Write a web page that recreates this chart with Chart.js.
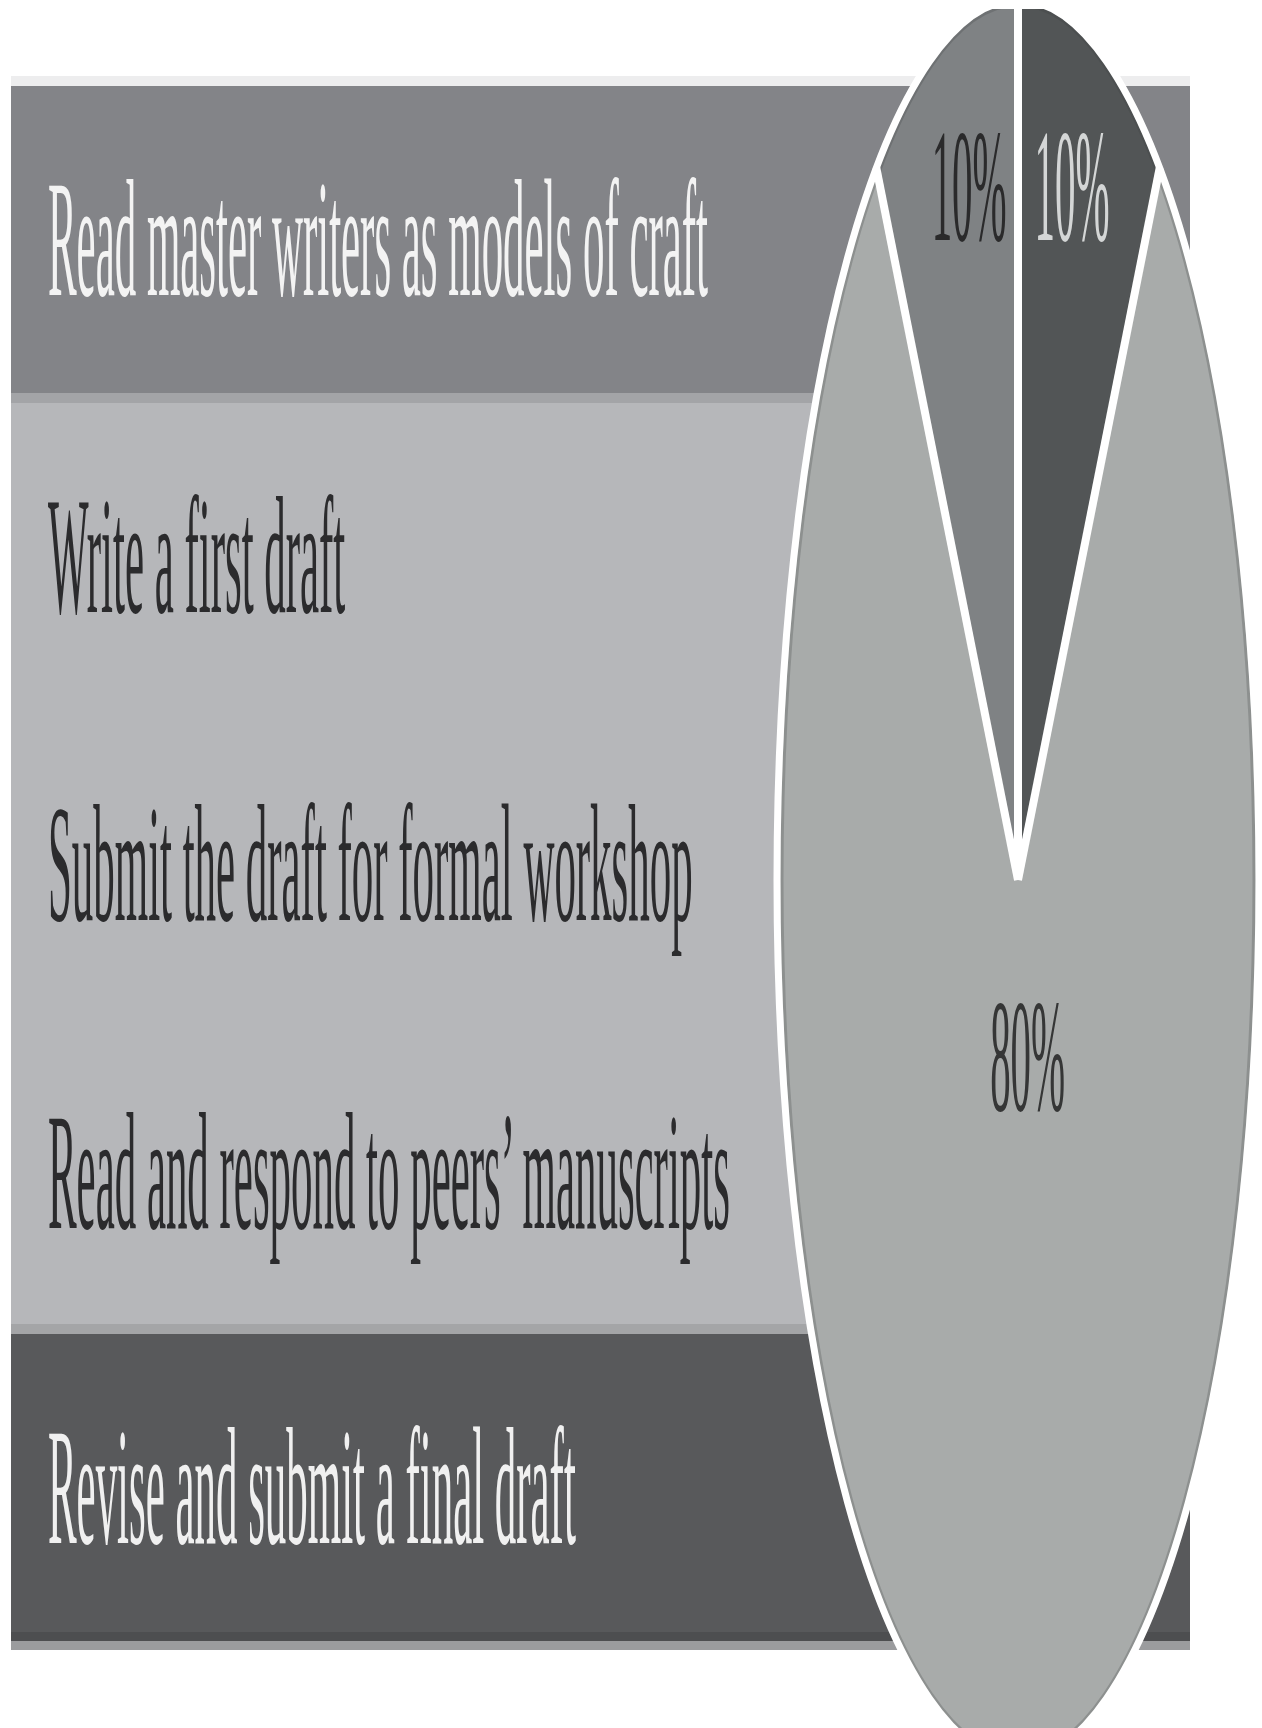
<!DOCTYPE html>
<html lang="en">
<head>
<meta charset="UTF-8">
<title>Writing workshop cycle</title>
<script src="https://cdn.jsdelivr.net/npm/chart.js"></script>
<style>
    body {
        margin: 0;
        background: #ffffff;
        overflow: hidden;
    }
    #page {
        position: relative;
        width: 1262px;
        height: 1728px;
        overflow: hidden;
    }
    .band {
        position: absolute;
        left: 11px;
        width: 1179px;
    }
    .stage {
        position: absolute;
        left: 48px;
        font-family: "Liberation Serif", "DejaVu Serif", serif;
        font-size: 168px;
        line-height: 168px;
        white-space: nowrap;
        transform-origin: 0 0;
    }
    #pie {
        position: absolute;
        left: 138px;
        top: 0;
        clip-path: inset(9px 0 0 0);
    }
</style>
</head>
<body>
<div id="page">
    <canvas id="pie" width="1760" height="1760"></canvas>
</div>

<script>
    // stages listed down the left side, and the group (pie slice) each belongs to
    const stages = [
        'Read master writers as models of craft',
        'Write a first draft',
        'Submit the draft for formal workshop',
        "Read and respond to peers\u2019 manuscripts",
        'Revise and submit a final draft'
    ];
    const stageGroup = [0, 1, 1, 1, 2];

    // pie slices, clockwise from 12 o'clock
    const sliceGroup = [2, 1, 0];
    const sliceValues = [10, 80, 10];

    // colours per group: reading, drafting/workshop, revision
    const groupFill = ['#838488', '#b6b7ba', '#58595b'];
    const groupText = ['#f3f3f3', '#2b2b2d', '#f0f0f0'];
    const sliceFill = ['#525556', '#a8abaa', '#7f8284'];
    const sliceText = ['#d4d6d6', '#353636', '#2a2a2b'];

    // layout (not data)
    const page = document.getElementById('page');
    const bands = [
        { top: 76, h: 10, c: '#ededee' },
        { top: 86, h: 307, c: groupFill[0] },
        { top: 393, h: 10, c: '#a3a4a7' },
        { top: 403, h: 921, c: groupFill[1] },
        { top: 1324, h: 10, c: '#a4a5a7' },
        { top: 1334, h: 298, c: groupFill[2] },
        { top: 1632, h: 9, c: '#4d4e50' },
        { top: 1641, h: 9, c: '#9b9c9e' }
    ];
    const baselines = [295, 612, 920, 1228, 1543];
    const pieSquash = 241 / 880;            // ellipse width / height
    const labelAnchor = [[0.224, -0.727], [0.04, 0.261], [-0.203, -0.727]];

    // horizontal text squash: fit the first stage to its width in the picture
    const mctx = document.createElement('canvas').getContext('2d');
    mctx.font = '168px "Liberation Serif"';
    const textSquash = 660 / mctx.measureText(stages[0]).width;

    bands.forEach(function (b) {
        const d = document.createElement('div');
        d.className = 'band';
        d.style.top = b.top + 'px';
        d.style.height = b.h + 'px';
        d.style.background = b.c;
        page.insertBefore(d, page.firstChild);
    });

    stages.forEach(function (s, i) {
        const d = document.createElement('div');
        d.className = 'stage';
        d.textContent = s;
        d.style.top = (baselines[i] - 141) + 'px';
        d.style.color = groupText[stageGroup[i]];
        d.style.transform = 'scaleX(' + textSquash + ')';
        page.insertBefore(d, document.getElementById('pie'));
    });

    // squash the pie into an ellipse, then draw white rims and labels on top
    const ellipsePie = {
        id: 'ellipsePie',
        beforeDatasetsDraw(chart) {
            const a = chart.getDatasetMeta(0).data[0];
            const ctx = chart.ctx;
            ctx.save();
            ctx.translate(a.x, a.y);
            ctx.scale(pieSquash, 1);
            ctx.translate(-a.x, -a.y);
        },
        afterDatasetsDraw(chart) {
            const ctx = chart.ctx;
            ctx.restore();
            const arcs = chart.getDatasetMeta(0).data;
            const cx = arcs[0].x, cy = arcs[0].y, R = arcs[0].outerRadius;
            const rx = R * pieSquash;

            ctx.save();
            // faint dark rim just inside the white outline
            ctx.strokeStyle = 'rgba(60, 62, 64, 0.25)';
            ctx.lineWidth = 3;
            ctx.beginPath();
            ctx.ellipse(cx, cy, rx - 5, R - 5, 0, 0, Math.PI * 2);
            ctx.stroke();

            ctx.strokeStyle = '#ffffff';
            ctx.lineWidth = 7;
            ctx.beginPath();
            ctx.ellipse(cx, cy, rx, R, 0, 0, Math.PI * 2);
            ctx.stroke();

            ctx.lineWidth = 8;
            arcs.forEach(function (a) {
                ctx.beginPath();
                ctx.moveTo(cx, cy);
                ctx.lineTo(cx + rx * Math.cos(a.startAngle), cy + R * Math.sin(a.startAngle));
                ctx.stroke();
            });

            ctx.font = '160px "Liberation Serif"';
            ctx.textAlign = 'center';
            ctx.textBaseline = 'alphabetic';
            arcs.forEach(function (a, i) {
                ctx.save();
                ctx.translate(cx + labelAnchor[i][0] * rx, cy + labelAnchor[i][1] * R);
                ctx.scale(textSquash, 1);
                ctx.fillStyle = sliceText[i];
                ctx.fillText(sliceValues[i] + '%', 0, 0);
                ctx.restore();
            });
            ctx.restore();
        }
    };

    new Chart(document.getElementById('pie'), {
        type: 'pie',
        data: {
            labels: sliceGroup.map(function (g) { return stages[stageGroup.indexOf(g)]; }),
            datasets: [{
                data: sliceValues,
                backgroundColor: sliceFill,
                borderWidth: 0
            }]
        },
        options: {
            responsive: false,
            animation: false,
            devicePixelRatio: 1,
            layout: { padding: 0 },
            plugins: {
                legend: { display: false },
                tooltip: { enabled: false }
            }
        },
        plugins: [ellipsePie]
    });
</script>
</body>
</html>
